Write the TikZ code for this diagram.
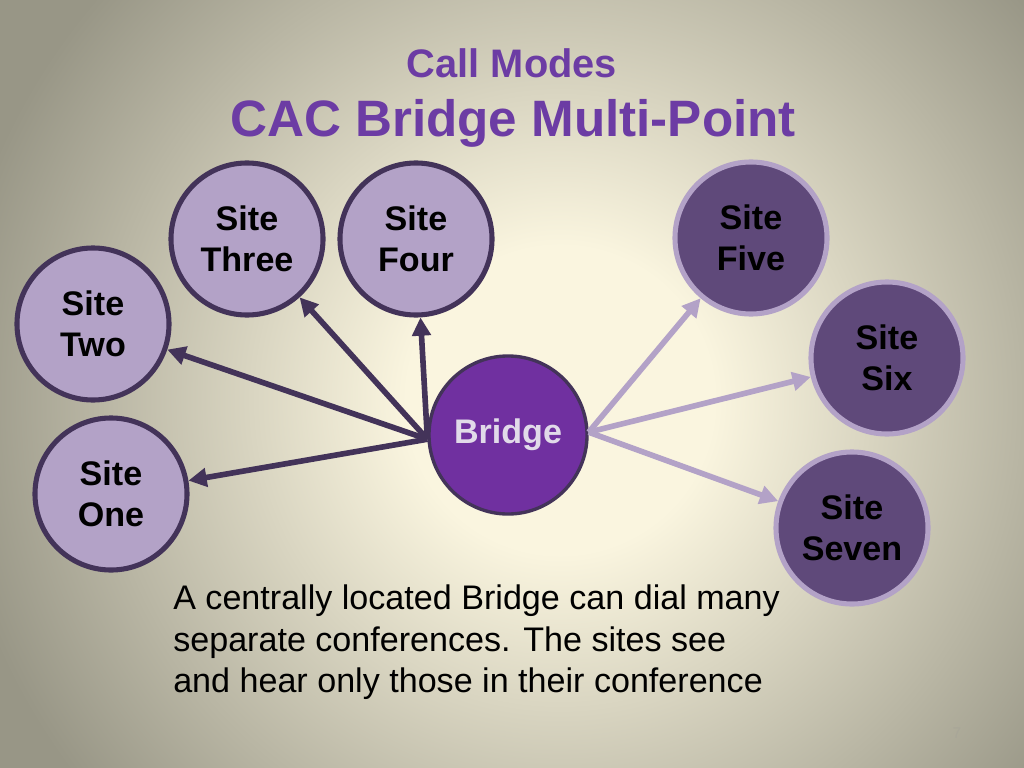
\documentclass[tikz,border=0pt]{standalone}
\usepackage{fontspec}
\setmainfont{Liberation Sans}
\usepackage{xcolor}
\usepackage{tikz}
\usetikzlibrary{arrows.meta, positioning, calc}

\definecolor{lilac}{HTML}{B3A2C7}
\definecolor{plum}{HTML}{433359}
\definecolor{grape}{HTML}{5F497A}
\definecolor{bridgefill}{HTML}{7030A0}
\definecolor{titlepurple}{HTML}{6C3CA4}
\definecolor{bgin}{HTML}{FAF5DF}
\definecolor{bgout}{HTML}{989686}
\pgfdeclareradialshading{slidebg}{\pgfpoint{0bp}{0bp}}{%
  color(0bp)=(bgin); color(6bp)=(bgin); color(24bp)=(bgout); color(50bp)=(bgout)}

\begin{document}
\begin{tikzpicture}[
    x=0.025cm, y=-0.025cm,
    every node/.style={font=\fontsize{24.25}{29}\selectfont\bfseries},
    site/.style={circle, draw=plum, line width=3.6pt, fill=lilac, minimum size=3.8cm, inner sep=0pt, align=center},
    farsite/.style={site, draw=lilac, fill=grape},
    hub/.style={circle, draw=plum, line width=2.4pt, fill=bridgefill, text=lilac!40, minimum size=3.95cm, inner sep=0pt},
    link/.style={-{Triangle[length=13pt, width=13pt]}, line width=4pt, draw=plum},
    farlink/.style={link, draw=lilac}
]
% background
\clip (0,0) rectangle (1024,768);
\fill[bgout] (0,0) rectangle (1024,768);
\shade[shading=slidebg] (560,400) circle (640);

% title
\node[anchor=base, text=titlepurple, font=\fontsize{28.3}{34}\selectfont\bfseries] (t1) at (512,78) {Call Modes};
\node[anchor=base, text=titlepurple, font=\fontsize{36.4}{44}\selectfont\bfseries] (t2) at (513,137) {CAC Bridge Multi-Point};

% sites
\node[hub] (br) at (508,435) {Bridge};
\node[site] (s1) at (111,494) {Site\\One};
\node[site] (s2) at (93,324) {Site\\Two};
\node[site] (s3) at (247,239) {Site\\Three};
\node[site] (s4) at (416,239) {Site\\Four};
\node[farsite] (s5) at (751,238) {Site\\Five};
\node[farsite] (s6) at (887,358) {Site\\Six};
\node[farsite] (s7) at (852,528) {Site\\Seven};

\draw[link] (br.183) -- (s1);
\draw[link] (br.183) -- (s2);
\draw[link] (br.183) -- (s3);
\draw[link] (br.183) -- (s4);
\draw[farlink] (br.2) -- (s5);
\draw[farlink] (br.2) -- (s6);
\draw[farlink] (br.2) -- (s7);

% note
\node[anchor=north west, inner sep=0pt, align=left, font=\fontsize{24.25}{29.2}\selectfont] (note) at (173,585)
  {A centrally located Bridge can dial many\\separate conferences. The sites see\\and hear only those in their conference};
\node[text=bgout!85!white, font=\fontsize{11}{13}\selectfont] (pg) at (957,733) {7};
\end{tikzpicture}
\end{document}
